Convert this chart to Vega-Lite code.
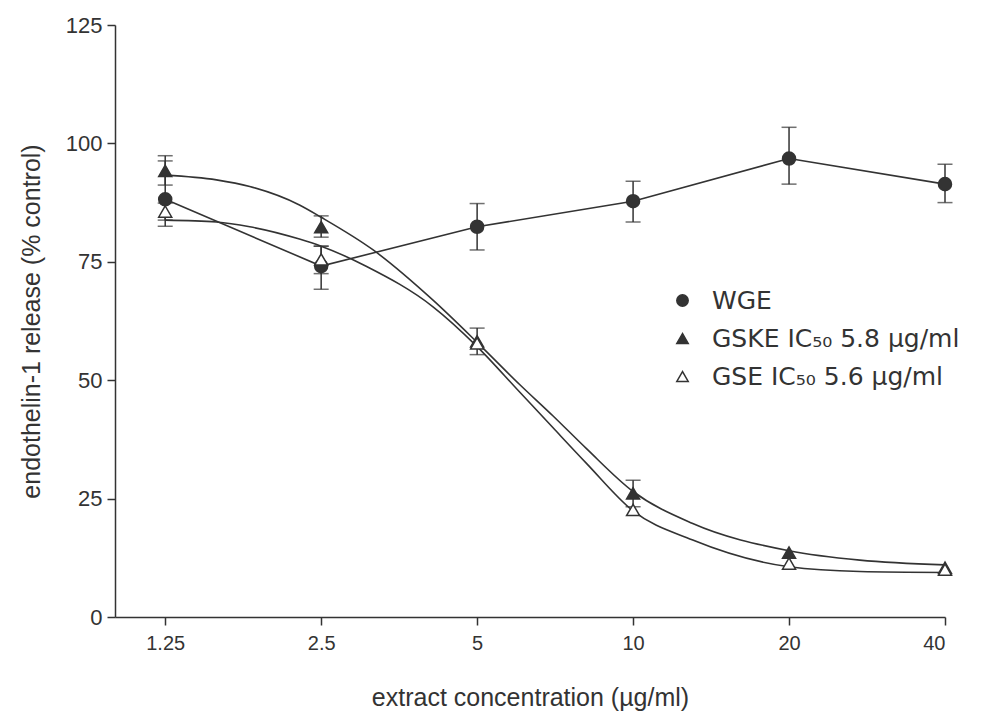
{
  "$schema": "https://vega.github.io/schema/vega-lite/v6.json",
  "width": 830,
  "height": 592,
  "autosize": "none",
  "padding": {"left": 115, "top": 25, "right": 37, "bottom": 96},
  "background": "white",
  "config": {
    "view": {"stroke": null},
    "font": "Liberation Sans",
    "axis": {"grid": false, "domainColor": "#333", "domainWidth": 1.5, "tickColor": "#333", "tickWidth": 1.5, "tickSize": 8, "labelColor": "#333", "titleColor": "#333", "labelFont": "Liberation Sans", "titleFont": "Liberation Sans", "titleFontWeight": "normal"},
    "legend": {"labelLimit": 400}
  },
  "datasets": {
    "pts": [
      {"c": 1.25, "s": "WGE", "v": 88.2, "lo": 82.5, "hi": 96.3},
      {"c": 2.5, "s": "WGE", "v": 74.1, "lo": 69.2, "hi": 78.3},
      {"c": 5, "s": "WGE", "v": 82.4, "lo": 77.5, "hi": 87.3},
      {"c": 10, "s": "WGE", "v": 87.8, "lo": 83.4, "hi": 92.0},
      {"c": 20, "s": "WGE", "v": 96.8, "lo": 91.4, "hi": 103.4},
      {"c": 40, "s": "WGE", "v": 91.4, "lo": 87.5, "hi": 95.6},
      {"c": 1.25, "s": "GSKE", "v": 94.2, "lo": 91.2, "hi": 97.4},
      {"c": 2.5, "s": "GSKE", "v": 82.3, "lo": 80.2, "hi": 84.7},
      {"c": 5, "s": "GSKE", "v": 58.2, "lo": 55.4, "hi": 61.0},
      {"c": 10, "s": "GSKE", "v": 26.1, "lo": 23.3, "hi": 28.9},
      {"c": 20, "s": "GSKE", "v": 13.6, "lo": null, "hi": null},
      {"c": 40, "s": "GSKE", "v": 10.4, "lo": null, "hi": null},
      {"c": 1.25, "s": "GSE", "v": 85.6, "lo": 83.8, "hi": 87.4},
      {"c": 2.5, "s": "GSE", "v": 75.5, "lo": 72.5, "hi": 78.3},
      {"c": 5, "s": "GSE", "v": 57.8, "lo": null, "hi": null},
      {"c": 10, "s": "GSE", "v": 22.6, "lo": null, "hi": null},
      {"c": 20, "s": "GSE", "v": 11.3, "lo": null, "hi": null},
      {"c": 40, "s": "GSE", "v": 10.0, "lo": null, "hi": null}
    ],
    "curves": [
      {"c": 1.25, "s": "GSKE", "v": 93.3},
      {"c": 1.57, "s": "GSKE", "v": 92.3},
      {"c": 1.82, "s": "GSKE", "v": 90.9},
      {"c": 2.27, "s": "GSKE", "v": 87.0},
      {"c": 2.5, "s": "GSKE", "v": 84.4},
      {"c": 3.15, "s": "GSKE", "v": 77.5},
      {"c": 4.11, "s": "GSKE", "v": 66.9},
      {"c": 5.0, "s": "GSKE", "v": 58.0},
      {"c": 6.04, "s": "GSKE", "v": 49.1},
      {"c": 7.0, "s": "GSKE", "v": 42.5},
      {"c": 8.12, "s": "GSKE", "v": 35.6},
      {"c": 10, "s": "GSKE", "v": 26.5},
      {"c": 13, "s": "GSKE", "v": 19.8},
      {"c": 20, "s": "GSKE", "v": 14.0},
      {"c": 27.4, "s": "GSKE", "v": 12.0},
      {"c": 40, "s": "GSKE", "v": 11.0},
      {"c": 1.25, "s": "GSE", "v": 83.8},
      {"c": 1.57, "s": "GSE", "v": 83.4},
      {"c": 1.82, "s": "GSE", "v": 82.4},
      {"c": 2.27, "s": "GSE", "v": 79.8},
      {"c": 2.5, "s": "GSE", "v": 78.3},
      {"c": 3.06, "s": "GSE", "v": 74.0},
      {"c": 4.11, "s": "GSE", "v": 65.5},
      {"c": 5.0, "s": "GSE", "v": 57.1},
      {"c": 6.04, "s": "GSE", "v": 47.5},
      {"c": 7.0, "s": "GSE", "v": 40.0},
      {"c": 8.12, "s": "GSE", "v": 32.5},
      {"c": 10, "s": "GSE", "v": 22.4},
      {"c": 13, "s": "GSE", "v": 16.3},
      {"c": 20, "s": "GSE", "v": 10.6},
      {"c": 27.4, "s": "GSE", "v": 9.6},
      {"c": 40, "s": "GSE", "v": 9.4}
    ]
  },
  "encoding": {
    "x": {
      "field": "c", "type": "quantitative",
      "scale": {"type": "log", "base": 2, "domain": [1.0, 40], "nice": false},
      "axis": {"values": [1.25, 2.5, 5, 10, 20, 40], "format": "~g", "labelFontSize": 20, "labelPadding": 8, "title": "extract concentration (µg/ml)", "titleFontSize": 25, "titlePadding": 32}
    },
    "y": {
      "field": "v", "type": "quantitative",
      "scale": {"domain": [0, 125], "nice": false},
      "axis": {"values": [0, 25, 50, 75, 100, 125], "labelFontSize": 22, "labelPadding": 5, "title": "endothelin-1 release (% control)", "titleFontSize": 25, "titlePadding": 21}
    }
  },
  "layer": [
    {
      "data": {"name": "curves"},
      "mark": {"type": "line", "interpolate": "monotone", "color": "#333", "strokeWidth": 1.6},
      "encoding": {"detail": {"field": "s"}}
    },
    {
      "data": {"name": "pts"},
      "transform": [{"filter": "datum.s === 'WGE'"}],
      "mark": {"type": "line", "color": "#333", "strokeWidth": 1.6},
      "encoding": {}
    },
    {
      "data": {"name": "pts"},
      "transform": [{"filter": "datum.lo != null"}],
      "mark": {"type": "rule", "color": "#333", "strokeWidth": 1.5},
      "encoding": {"y": {"field": "lo", "type": "quantitative"}, "y2": {"field": "hi"}}
    },
    {
      "data": {"name": "pts"},
      "transform": [{"filter": "datum.lo != null"}],
      "mark": {"type": "tick", "orient": "horizontal", "color": "#333", "thickness": 1.5, "size": 15},
      "encoding": {"y": {"field": "lo", "type": "quantitative"}}
    },
    {
      "data": {"name": "pts"},
      "transform": [{"filter": "datum.lo != null"}],
      "mark": {"type": "tick", "orient": "horizontal", "color": "#333", "thickness": 1.5, "size": 15},
      "encoding": {"y": {"field": "hi", "type": "quantitative"}}
    },
    {
      "data": {"name": "pts"},
      "mark": {"type": "point", "strokeWidth": 1.5, "opacity": 1, "fillOpacity": 1, "size": 170},
      "encoding": {
        "shape": {
          "field": "s", "type": "nominal",
          "scale": {"domain": ["WGE", "GSKE", "GSE"], "range": ["circle", "triangle-up", "triangle-up"]},
          "legend": {
            "title": null, "orient": "none", "legendX": 555, "legendY": 263,
            "padding": 0, "labelFontSize": 25, "labelColor": "#333", "labelFont": "DejaVu Sans",
            "labelOffset": 17, "rowPadding": 12, "symbolSize": 130, "symbolStrokeWidth": 1.5, "labelLimit": 400,
            "labelExpr": "datum.value === 'WGE' ? 'WGE' : datum.value === 'GSKE' ? 'GSKE IC₅₀ 5.8 µg/ml' : 'GSE IC₅₀ 5.6 µg/ml'"
          }
        },
        "fill": {
          "field": "s", "type": "nominal",
          "scale": {"domain": ["WGE", "GSKE", "GSE"], "range": ["#333333", "#333333", "#ffffff"]},
          "legend": {
            "title": null, "orient": "none", "legendX": 555, "legendY": 263,
            "padding": 0, "labelFontSize": 25, "labelColor": "#333", "labelFont": "DejaVu Sans",
            "labelOffset": 17, "rowPadding": 12, "symbolSize": 130, "symbolStrokeWidth": 1.5, "labelLimit": 400,
            "labelExpr": "datum.value === 'WGE' ? 'WGE' : datum.value === 'GSKE' ? 'GSKE IC₅₀ 5.8 µg/ml' : 'GSE IC₅₀ 5.6 µg/ml'"
          }
        },
        "stroke": {
          "field": "s", "type": "nominal",
          "scale": {"domain": ["WGE", "GSKE", "GSE"], "range": ["#333333", "#333333", "#333333"]},
          "legend": {
            "title": null, "orient": "none", "legendX": 555, "legendY": 263,
            "padding": 0, "labelFontSize": 25, "labelColor": "#333", "labelFont": "DejaVu Sans",
            "labelOffset": 17, "rowPadding": 12, "symbolSize": 130, "symbolStrokeWidth": 1.5, "labelLimit": 400,
            "labelExpr": "datum.value === 'WGE' ? 'WGE' : datum.value === 'GSKE' ? 'GSKE IC₅₀ 5.8 µg/ml' : 'GSE IC₅₀ 5.6 µg/ml'"
          }
        },
        "order": {"field": "s", "sort": "descending"}
      }
    }
  ]
}
